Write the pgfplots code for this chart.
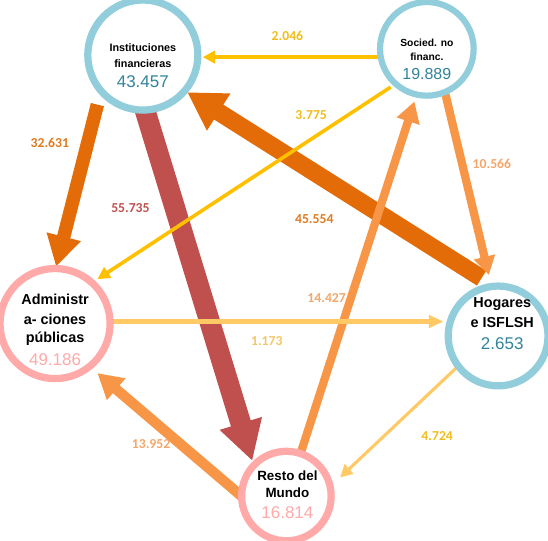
\documentclass[border=0pt]{standalone}
\usepackage{fontspec}
\setmainfont{Liberation Sans}
\newfontfamily\lblfont{Carlito}
\usepackage{pgfplots}
\pgfplotsset{compat=1.18}
\usetikzlibrary{arrows.meta}
\definecolor{cdark}{HTML}{E36C09}
\definecolor{cred}{HTML}{C0504D}
\definecolor{clight}{HTML}{F79646}
\definecolor{cyel}{HTML}{FFC000}
\definecolor{cpale}{HTML}{FFC966}
\definecolor{ringblue}{HTML}{92CDDC}
\definecolor{ringpink}{HTML}{FFA9A9}
\definecolor{numblue}{HTML}{31849B}
\definecolor{numpink}{HTML}{FFA9A9}
\definecolor{lyel}{HTML}{F0BC1A}
\definecolor{llight}{HTML}{F4A66A}
\definecolor{lpale}{HTML}{F5C565}
\definecolor{lorange}{HTML}{DE7A20}
\begin{document}
\begin{tikzpicture}
\begin{axis}[
  scale only axis, width=548bp, height=534bp,
  xmin=0, xmax=548, ymin=0, ymax=534, y dir=reverse,
  hide axis, clip marker paths=true,
]
% arrows (flows)
\addplot[no markers, draw=cred, line width=20bp, -{Triangle[width=40bp,length=38bp]}] coordinates {(150,100) (258,453)};
\addplot[no markers, draw=cdark, line width=17bp, -{Triangle[width=40bp,length=36bp]}] coordinates {(480,276) (195,96)};
\addplot[no markers, draw=cdark, line width=13bp, -{Triangle[width=32bp,length=30bp]}] coordinates {(108,108) (68,265)};
\addplot[no markers, draw=clight, line width=10bp, -{Triangle[width=26bp,length=24bp]}] coordinates {(258,496) (108,368)};
\addplot[no markers, draw=clight, line width=8bp, -{Triangle[width=22bp,length=20bp]}] coordinates {(304,448) (415,105)};
\addplot[no markers, draw=clight, line width=8bp, -{Triangle[width=20bp,length=18bp]}] coordinates {(445,98) (487,273)};
\addplot[no markers, draw=cyel, line width=3.5bp, -{Triangle[width=12bp,length=12bp]}] coordinates {(392,91) (108,277)};
\addplot[no markers, draw=cyel, line width=4bp, -{Triangle[width=12bp,length=12bp]}] coordinates {(385,62) (210,62)};
\addplot[no markers, draw=cpale, line width=4bp, -{Triangle[width=12bp,length=14bp]}] coordinates {(118,318) (443,318)};
\addplot[no markers, draw=cpale, line width=3bp, -{Triangle[width=12bp,length=12bp]}] coordinates {(466,353) (343,469)};
% sector circles
\addplot[only marks, mark=*, mark size=53.5pt, mark options={draw=ringblue, fill=white, line width=7bp}] coordinates {(152,60)};
\addplot[only marks, mark=*, mark size=45.5pt, mark options={draw=ringblue, fill=white, line width=6bp}] coordinates {(427,54)};
\addplot[only marks, mark=*, mark size=53.5pt, mark options={draw=ringpink, fill=white, line width=7bp}] coordinates {(67,320)};
\addplot[only marks, mark=*, mark size=48.5pt, mark options={draw=ringblue, fill=white, line width=7bp}] coordinates {(496,332)};
\addplot[only marks, mark=*, mark size=43.5pt, mark options={draw=ringpink, fill=white, line width=7bp}] coordinates {(291,487)};
% circle texts
\node[font=\fontsize{10.5}{12}\selectfont\bfseries] at (axis cs:152,53) {Instituciones};
\node[font=\fontsize{10.5}{12}\selectfont\bfseries] at (axis cs:152,68) {financieras};
\node[font=\fontsize{16.5}{18}\selectfont, text=numblue] at (axis cs:152,86) {43.457};
\node[font=\fontsize{10}{12}\selectfont\bfseries] at (axis cs:427,48) {Socied. no};
\node[font=\fontsize{10}{12}\selectfont\bfseries] at (axis cs:427,62) {financ.};
\node[font=\fontsize{15.5}{18}\selectfont, text=numblue] at (axis cs:427,78) {19.889};
\node[font=\fontsize{14}{16}\selectfont\bfseries] at (axis cs:67,297) {Administr};
\node[font=\fontsize{14}{16}\selectfont\bfseries] at (axis cs:67,316) {a- ciones};
\node[font=\fontsize{14}{16}\selectfont\bfseries] at (axis cs:67,335) {públicas};
\node[font=\fontsize{16.5}{18}\selectfont, text=numpink] at (axis cs:67,355) {49.186};
\node[font=\fontsize{14}{16}\selectfont\bfseries] at (axis cs:500,301) {Hogares};
\node[font=\fontsize{14}{16}\selectfont\bfseries] at (axis cs:500,319) {e ISFLSH};
\node[font=\fontsize{16.5}{18}\selectfont, text=numblue] at (axis cs:500,339) {2.653};
\node[font=\fontsize{13}{15}\selectfont\bfseries] at (axis cs:292,467) {Resto del};
\node[font=\fontsize{13}{15}\selectfont\bfseries] at (axis cs:292,484) {Mundo};
\node[font=\fontsize{16.5}{18}\selectfont, text=numpink] at (axis cs:292,503) {16.814};
% flow labels
\node[font=\lblfont\fontsize{13.3}{15}\selectfont\bfseries, text=lyel] at (axis cs:292,41) {2.046};
\node[font=\lblfont\fontsize{13.3}{15}\selectfont\bfseries, text=lyel] at (axis cs:315,118) {3.775};
\node[font=\lblfont\fontsize{13.3}{15}\selectfont\bfseries, text=llight] at (axis cs:490,165) {10.566};
\node[font=\lblfont\fontsize{13.3}{15}\selectfont\bfseries, text=lorange] at (axis cs:62,145) {32.631};
\node[font=\lblfont\fontsize{13.3}{15}\selectfont\bfseries, text=cred] at (axis cs:140,208) {55.735};
\node[font=\lblfont\fontsize{13.3}{15}\selectfont\bfseries, text=lorange] at (axis cs:318,219) {45.554};
\node[font=\lblfont\fontsize{13.3}{15}\selectfont\bfseries, text=llight] at (axis cs:330,295) {14.427};
\node[font=\lblfont\fontsize{13.3}{15}\selectfont\bfseries, text=lpale] at (axis cs:272,337) {1.173};
\node[font=\lblfont\fontsize{13.3}{15}\selectfont\bfseries, text=llight] at (axis cs:160,437) {13.952};
\node[font=\lblfont\fontsize{13.3}{15}\selectfont\bfseries, text=lyel] at (axis cs:437,429) {4.724};
\end{axis}
\end{tikzpicture}
\end{document}
